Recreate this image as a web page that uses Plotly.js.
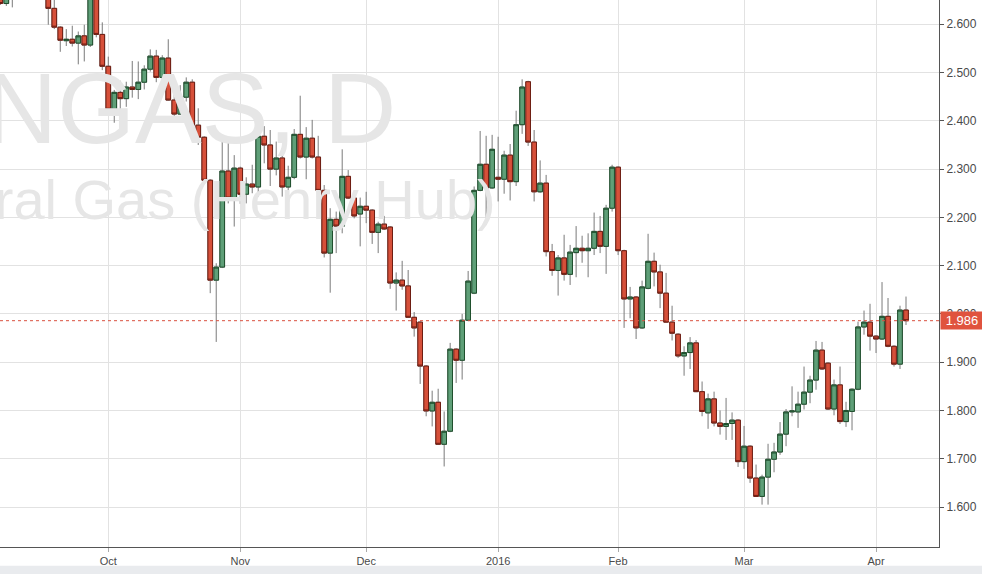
<!DOCTYPE html>
<html>
<head>
<meta charset="utf-8">
<script src="https://cdn.plot.ly/plotly-3.0.1.min.js"></script>
<style>html,body{margin:0;padding:0;background:#fff;}#chart{width:982px;height:574px;}</style>
</head>
<body>
<div id="chart"></div>
<script>
// Daily bars, index 0 = first bar at the left edge (null = bar above visible range)
const openP = [2.680,2.643,2.700,null,null,null,null,null,2.680,2.633,
2.594,2.566,2.569,2.561,2.576,2.557,2.660,2.579,2.513,2.424,
2.459,2.446,2.470,2.465,2.480,2.507,2.534,2.490,2.530,2.443,
2.414,2.449,2.480,2.391,2.366,2.277,2.070,2.097,2.296,2.240,
2.302,2.248,2.269,2.263,2.368,2.350,2.300,2.323,2.263,2.283,
2.372,2.325,2.364,2.325,2.256,2.126,2.196,2.182,2.285,2.240,
2.207,2.223,2.215,2.169,2.186,2.180,2.064,2.070,2.058,1.993,
1.983,1.892,1.799,1.817,1.730,1.757,1.927,1.904,1.987,2.043,
2.256,2.310,2.261,2.283,2.279,2.329,2.274,2.392,2.481,2.356,
2.253,2.271,2.129,2.090,2.116,2.082,2.127,2.136,2.131,2.136,
2.171,2.140,2.219,2.304,2.131,2.031,2.035,1.971,2.053,2.109,
2.087,2.043,1.983,1.958,1.913,1.920,1.940,1.839,1.795,1.824,
1.774,1.767,1.773,1.780,1.694,1.726,1.660,1.622,1.662,1.699,
1.714,1.751,1.797,1.797,1.813,1.838,1.863,1.925,1.898,1.803,
1.853,1.777,1.798,1.844,1.973,1.983,1.954,1.948,1.995,1.933,
1.896,2.008];
const highP = [2.700,2.700,2.710,null,null,null,null,null,2.700,2.655,
2.596,2.590,2.597,2.585,2.599,2.680,2.680,2.604,2.533,2.464,
2.483,2.481,2.524,2.523,2.515,2.548,2.547,2.536,2.569,2.458,
2.474,2.490,2.486,2.426,2.368,2.279,2.105,2.371,2.366,2.329,
2.305,2.283,2.309,2.378,2.389,2.381,2.357,2.343,2.307,2.383,
2.452,2.387,2.402,2.369,2.267,2.219,2.212,2.341,2.298,2.252,
2.241,2.253,2.217,2.191,2.203,2.182,2.086,2.110,2.091,2.004,
1.985,1.894,1.841,1.845,1.798,1.940,1.929,2.000,2.089,2.264,
2.379,2.369,2.371,2.367,2.338,2.352,2.421,2.486,2.483,2.381,
2.318,2.288,2.145,2.122,2.164,2.143,2.182,2.162,2.167,2.210,
2.203,2.226,2.309,2.306,2.133,2.056,2.037,2.069,2.166,2.127,
2.102,2.085,2.017,1.960,1.933,1.952,1.946,1.860,1.835,1.839,
1.800,1.826,1.796,1.782,1.768,1.728,1.688,1.667,1.731,1.733,
1.776,1.803,1.850,1.839,1.891,1.872,1.944,1.942,1.900,1.864,
1.891,1.818,1.846,1.984,2.007,2.021,1.956,2.066,2.033,1.935,
2.017,2.036];
const lowP = [2.640,2.638,2.635,null,null,null,null,null,2.599,2.590,
2.543,2.555,2.554,2.517,2.523,2.553,2.573,2.505,2.414,2.396,
2.423,2.429,2.448,2.445,2.465,2.502,2.480,2.468,2.442,2.403,
2.412,2.440,2.374,2.350,2.269,2.043,1.942,2.095,2.229,2.181,
2.228,2.229,2.250,2.243,2.312,2.265,2.287,2.243,2.226,2.279,
2.322,2.279,2.322,2.247,2.117,2.044,2.126,2.167,2.238,2.198,
2.140,2.188,2.145,2.126,2.174,2.052,2.007,2.050,1.992,1.953,
1.855,1.788,1.767,1.729,1.684,1.755,1.857,1.864,1.985,2.041,
2.254,2.185,2.259,2.233,2.249,2.235,2.265,2.373,2.348,2.233,
2.251,2.119,2.079,2.038,2.069,2.060,2.076,2.106,2.076,2.122,
2.126,2.083,2.212,2.122,1.971,1.991,1.948,1.969,2.051,2.057,
2.012,1.982,1.945,1.909,1.872,1.886,1.838,1.788,1.762,1.767,
1.750,1.739,1.739,1.683,1.679,1.650,1.621,1.605,1.605,1.672,
1.708,1.726,1.788,1.764,1.802,1.815,1.843,1.884,1.801,1.790,
1.772,1.766,1.759,1.842,1.957,1.924,1.919,1.946,1.931,1.891,
1.886,1.977];
const closeP = [2.643,2.680,2.665,null,null,null,null,null,2.633,2.594,
2.567,2.569,2.561,2.576,2.557,2.660,2.579,2.513,2.424,2.459,
2.446,2.470,2.465,2.480,2.507,2.534,2.490,2.530,2.443,2.414,
2.449,2.480,2.391,2.366,2.277,2.070,2.097,2.296,2.240,2.302,
2.248,2.269,2.263,2.368,2.350,2.300,2.323,2.263,2.283,2.372,
2.325,2.364,2.325,2.256,2.126,2.196,2.182,2.285,2.240,2.203,
2.223,2.215,2.169,2.186,2.176,2.064,2.070,2.058,1.993,1.971,
1.892,1.799,1.817,1.730,1.757,1.927,1.904,1.987,2.068,2.256,
2.310,2.261,2.341,2.279,2.329,2.274,2.392,2.470,2.356,2.253,
2.271,2.129,2.090,2.116,2.082,2.128,2.136,2.131,2.136,2.171,
2.140,2.219,2.304,2.131,2.031,2.035,1.971,2.056,2.109,2.087,
2.043,1.983,1.960,1.913,1.920,1.940,1.839,1.798,1.824,1.774,
1.767,1.773,1.780,1.694,1.726,1.660,1.622,1.662,1.699,1.714,
1.751,1.797,1.799,1.813,1.838,1.863,1.925,1.886,1.803,1.853,
1.777,1.800,1.844,1.973,1.983,1.954,1.948,1.995,1.933,1.896,
2.008,1.986];

const monthLabels = ['Oct','Nov','Dec','2016','Feb','Mar','Apr'];
const monthFirstBar = [18,40,61,83,103,124,146];
const lastPrice = 1.986;
const symbolText = 'NGAS, D';
const descText = 'Natural Gas (Henry Hub)';

// keep only bars with values
const X=[],O=[],H=[],L=[],C=[];
for (let i=0;i<openP.length;i++){
  if (openP[i]===null) continue;
  X.push(i);O.push(openP[i]);H.push(highP[i]);L.push(lowP[i]);C.push(closeP[i]);
}
const bodyHi = O.map((o,i)=>Math.max(o,C[i]));
const bodyLo = O.map((o,i)=>Math.min(o,C[i]));

const FONT = 'Liberation Sans, Arial, sans-serif';
const watermark = {
  type:'scatter', mode:'text', x:[66, 82.6], y:[2.405, 2.226],
  text:[symbolText, descText], textposition:'middle left',
  textfont:{family:FONT, size:[100,56], color:'#e6e6e6'},
  hoverinfo:'skip', showlegend:false, cliponaxis:true
};
const wicks = {
  type:'candlestick', x:X, open:O, high:H, low:L, close:C,
  increasing:{line:{color:'#7a7a7a',width:1}, fillcolor:'rgba(0,0,0,0)'},
  decreasing:{line:{color:'#7a7a7a',width:1}, fillcolor:'rgba(0,0,0,0)'},
  whiskerwidth:0, hoverinfo:'skip', showlegend:false
};
const bodies = {
  type:'candlestick', x:X, open:O, high:bodyHi, low:bodyLo, close:C,
  increasing:{line:{color:'#1f4f2d',width:1}, fillcolor:'#5f9f78'},
  decreasing:{line:{color:'#6e1d12',width:1}, fillcolor:'#d6503a'},
  whiskerwidth:0, showlegend:false
};

const layout = {
  width:982, height:574,
  margin:{l:0, r:43, t:0, b:27, pad:0},
  paper_bgcolor:'#ffffff', plot_bgcolor:'#ffffff',
  showlegend:false, font:{family:FONT, color:'#4a4a4a'},
  boxgap:0.22, boxgroupgap:0,
  xaxis:{range:[-0.05,156.5], tickmode:'array', tickvals:monthFirstBar, ticktext:monthLabels,
    showgrid:true, gridcolor:'#e2e2e2', gridwidth:1, zeroline:false,
    showline:true, linecolor:'#555555', linewidth:1,
    ticks:'outside', ticklen:4, tickcolor:'#aaaaaa',
    tickfont:{size:11, color:'#4a4a4a', family:FONT},
    rangeslider:{visible:false}, fixedrange:true},
  yaxis:{side:'right', range:[1.5172,2.6503], tick0:1.6, dtick:0.1, tickformat:'.3f',
    showgrid:true, gridcolor:'#e2e2e2', gridwidth:1, zeroline:false,
    showline:true, linecolor:'#555555', linewidth:1,
    ticks:'outside', ticklen:4, tickcolor:'#555555',
    tickfont:{size:12, color:'#4a4a4a', family:FONT}, fixedrange:true},
  shapes:[
    {type:'line', xref:'paper', x0:0, x1:1, yref:'y', y0:lastPrice, y1:lastPrice,
     line:{color:'#d9503f', width:1, dash:'dot'}},
    {type:'rect', xref:'paper', x0:0, x1:1.05, yref:'paper', y0:-0.05, y1:-0.0345,
     fillcolor:'#e9ebee', line:{width:0}, layer:'above'}
  ],
  annotations:[
    {xref:'paper', x:1, xanchor:'left', yref:'y', y:lastPrice, yanchor:'middle',
     text:String(lastPrice.toFixed(3)), showarrow:false, bgcolor:'#e0533e',
     font:{color:'#ffffff', size:13, family:FONT}, width:40, height:15, borderpad:1, xshift:1}
  ]
};
Plotly.newPlot('chart',[watermark,wicks,bodies],layout,{displayModeBar:false,staticPlot:true});
</script>
</body>
</html>
